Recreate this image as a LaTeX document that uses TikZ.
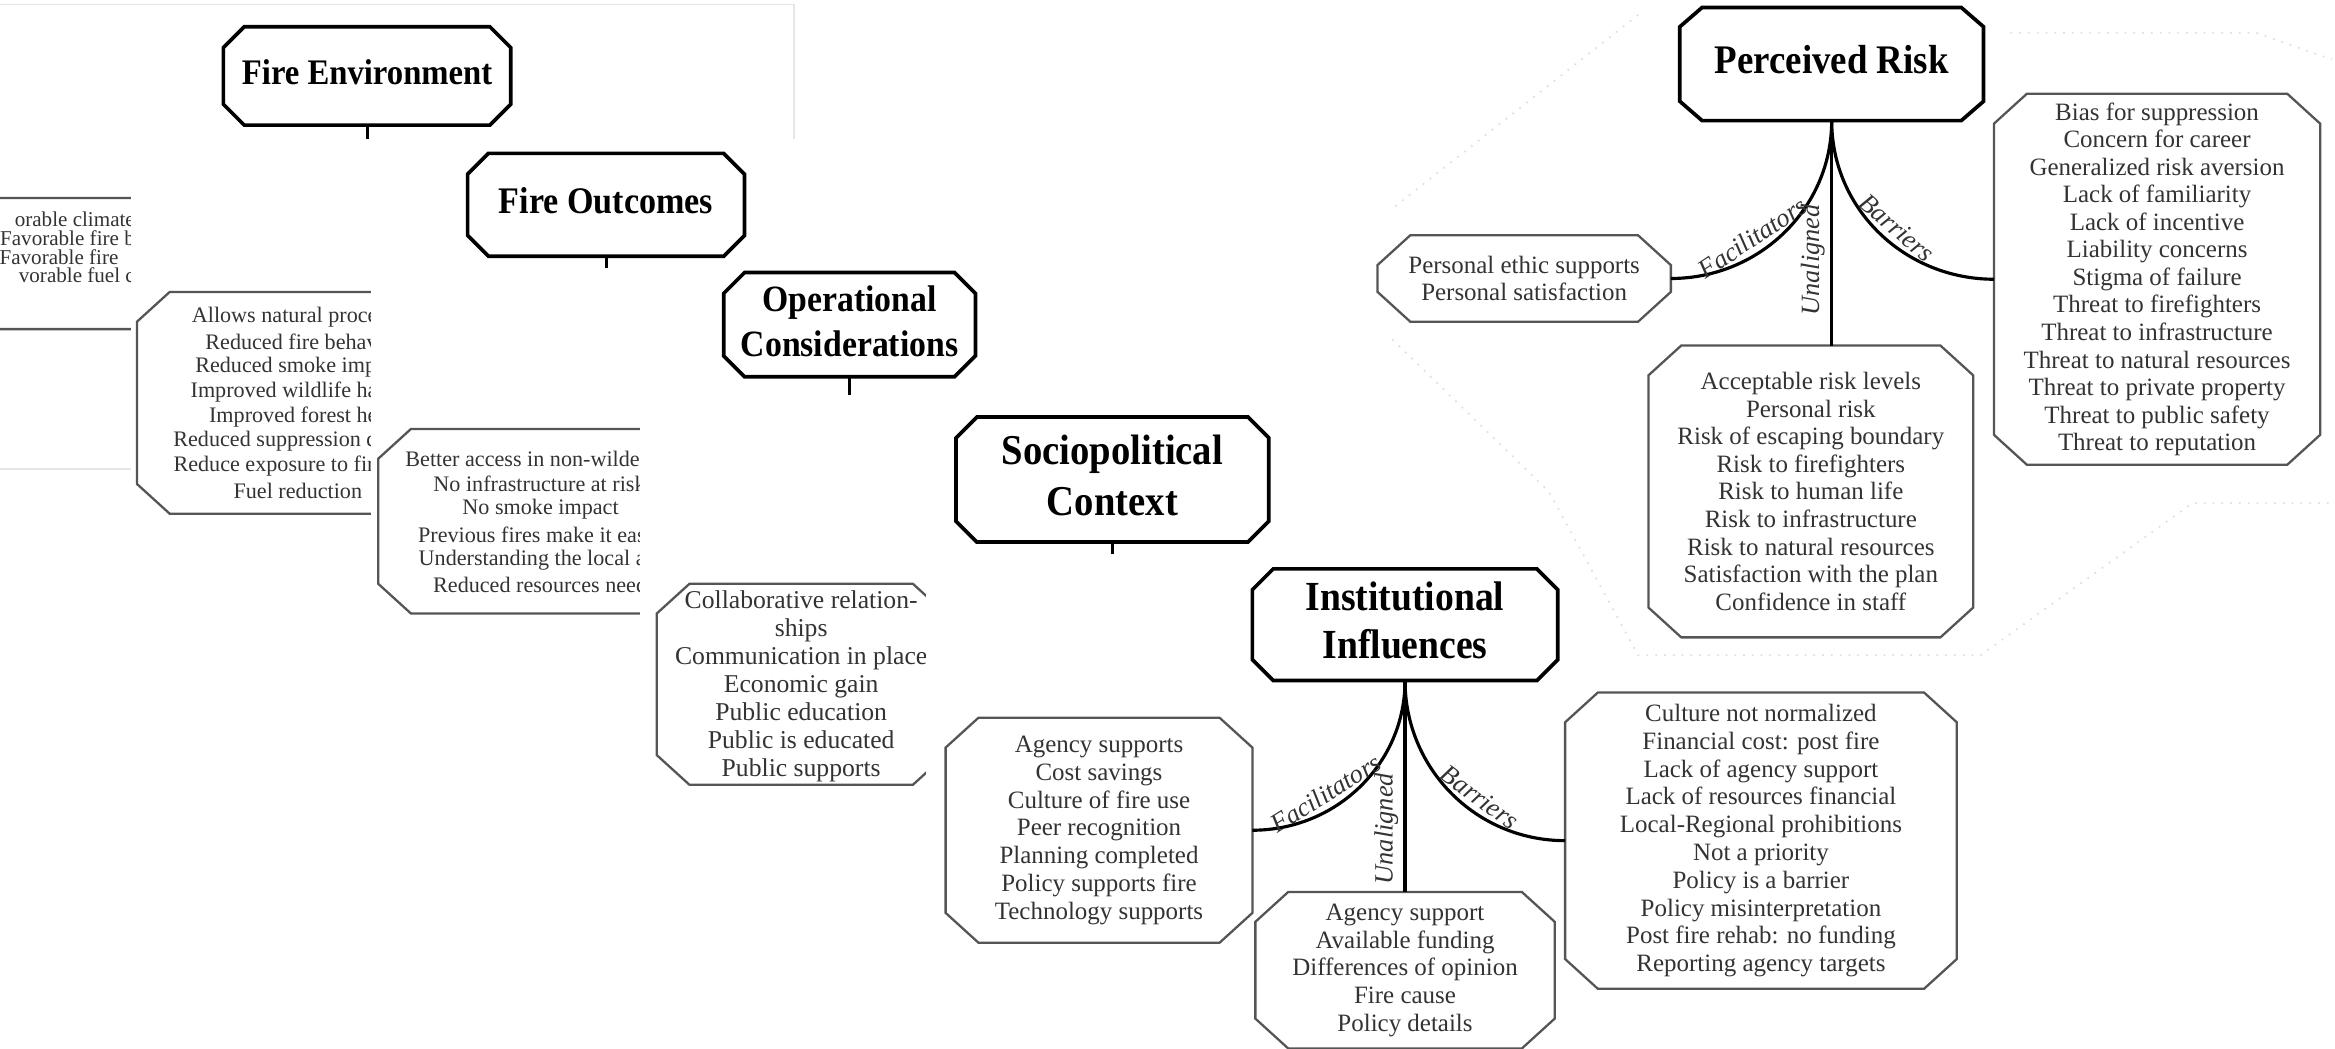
\documentclass[tikz,border=0pt]{standalone}
\usepackage{fontspec}
\usepackage{graphicx}
\setmainfont{Liberation Serif}
\usetikzlibrary{calc,fit}
\definecolor{txt}{HTML}{333333}
\definecolor{bline}{HTML}{555555}
\definecolor{pane}{HTML}{E6E6E6}
\newcommand\obox[8]{%
  \path (#2,#3) coordinate (#1-a) (#4,#5) coordinate (#1-b);
  \node[fit=(#1-a)(#1-b), inner sep=0pt, outer sep=0pt] (#1) {};
  \draw[#6] ($(#1.north west)+(#7,0)$) -- ($(#1.north east)+(-#7,0)$) -- ($(#1.north east)+(0,#8)$) -- ($(#1.south east)+(0,-#8)$) -- ($(#1.south east)+(-#7,0)$) -- ($(#1.south west)+(#7,0)$) -- ($(#1.south west)+(0,-#8)$) -- ($(#1.north west)+(0,#8)$) -- cycle;}
\newcommand\tallt[1]{\scalebox{1}[1.1]{\begin{tabular}{@{}c@{}}#1\end{tabular}}}
\begin{document}
\begin{tikzpicture}[x=0.014892cm, y=-0.014892cm,
  tbox/.style={draw=black, line width=1.05pt, fill=white, line join=miter},
  cbox/.style={draw=bline, line width=0.65pt, fill=white},
  ttl/.style={align=center, inner sep=0pt, text=black},
  bd/.style={align=center, inner sep=0pt, text=txt, font=\fontsize{7.1}{#1}\selectfont},
  cl/.style={inner sep=0pt, text=txt, font=\fontsize{6.3}{7}\selectfont},
  fl/.style={inner sep=0pt, text=txt, font=\fontsize{6}{6.2}\selectfont, anchor=east},
  conn/.style={draw=black, line width=0.9pt},
  lab/.style={font=\fontsize{7.5}{8}\selectfont\itshape, text=black!80, sloped, above, inner sep=1.5pt},
  panel/.style={fill=white},
  frame/.style={draw=pane, line width=0.5pt},
  ghost/.style={draw=black!12, line width=0.5pt, dotted},
]
\useasboundingbox (0,0) rectangle (1568,704);

% ---------------- Panel 1: Fire Environment ----------------
\draw[frame] (-5,3) -- (533,3) -- (533,315) -- (-5,315);
\obox{fe}{150}{18}{343}{84}{tbox}{14}{14}
\node[ttl, font=\fontsize{9.3}{11}\selectfont\bfseries] (fe-t) at (fe) {\tallt{Fire Environment}};
\coordinate (fe-s) at (246.5,100);
\draw[conn] (fe.south) -- (fe-s);
\obox{fel}{-150}{133}{200}{221}{cbox}{22}{20}
\node[fl] (fel-1) at (91,147) {orable climate};
\node[fl] (fel-2) at (91,160) {Favorable fire b};
\node[fl] (fel-3) at (80,172.5) {Favorable fire};
\node[fl] (fel-4) at (91,185) {vorable fuel c};

% ---------------- Panel 2: Fire Outcomes ----------------
\fill[panel] (88,93) rectangle (560,480);
\obox{fo}{314}{103}{500}{172}{tbox}{14}{14}
\node[ttl, font=\fontsize{9.7}{11}\selectfont\bfseries] (fo-t) at (fo) {\tallt{Fire Outcomes}};
\coordinate (fo-s) at (407,190);
\draw[conn] (fo.south) -- (fo-s);
\obox{fol}{92}{196}{308}{345}{cbox}{22}{20}
\node[cl, anchor=east] (fol-1) at (254,213) {Allows natural proce};
\node[cl, anchor=east] (fol-2) at (254,229.7) {Reduced fire behav};
\node[cl, anchor=east] (fol-3) at (253,246.4) {Reduced smoke imp};
\node[cl, anchor=east] (fol-4) at (254,263.1) {Improved wildlife ha};
\node[cl, anchor=east] (fol-5) at (254,279.8) {Improved forest he};
\node[cl, anchor=east] (fol-6) at (254,296.5) {Reduced suppression d};
\node[cl, anchor=east] (fol-7) at (252,313.2) {Reduce exposure to fir};
\node[cl] (fol-8) at (200,329.9) {Fuel reduction};

% ---------------- Panel 3: Operational Considerations ----------------
\fill[panel] (249,180) rectangle (690,560);
\obox{oc}{486}{183}{655}{253}{tbox}{14}{14}
\node[ttl, font=\fontsize{9.6}{11.6}\selectfont\bfseries] (oc-t) at (oc) {\tallt{Operational\\Considerations}};
\coordinate (oc-s) at (570.5,280);
\draw[conn] (oc.south) -- (oc-s);
\obox{ocl}{254}{288}{472}{412}{cbox}{22}{20}
\node[cl, anchor=east] (ocl-1) at (435,308) {Better access in non-wilder};
\node[cl, anchor=east] (ocl-2) at (434,325) {No infrastructure at risk};
\node[cl] (ocl-3) at (363,342) {No smoke impact};
\node[cl, anchor=east] (ocl-4) at (434,359) {Previous fires make it eas};
\node[cl, anchor=east] (ocl-5) at (434,376) {Understanding the local a};
\node[cl, anchor=east] (ocl-6) at (435,393) {Reduced resources need};

% ---------------- Panel 4: Sociopolitical Context ----------------
\fill[panel] (430,265) rectangle (870,600);
\obox{sc}{642}{280}{852}{364}{tbox}{14}{14}
\node[ttl, font=\fontsize{11}{13.2}\selectfont\bfseries] (sc-t) at (sc) {\tallt{Sociopolitical\\Context}};
\coordinate (sc-s) at (747,385);
\draw[conn] (sc.south) -- (sc-s);
\obox{col}{441}{392}{635}{527}{cbox}{22}{20}
\node[bd=7.97, font=\fontsize{7.3}{7.97}\selectfont] (col-t) at (538,461) {Collaborative relation-\\ships\\Communication in place\\Economic gain\\Public education\\Public is educated\\Public supports};

% ---------------- Panel 5: Institutional Influences ----------------
\fill[panel] (622,372) rectangle (1568,704);
\obox{ii}{841}{382}{1046}{457}{tbox}{14}{14}
\node[ttl, font=\fontsize{10.7}{12.6}\selectfont\bfseries] (ii-t) at (ii) {\tallt{Institutional\\Influences}};
\obox{iif}{635}{482}{841}{633}{cbox}{22}{20}
\node[bd=7.9] (iif-t) at (iif) {Agency supports\\Cost savings\\Culture of fire use\\Peer recognition\\Planning completed\\Policy supports fire\\Technology supports};
\obox{iiu}{843}{599}{1044}{704}{cbox}{22}{20}
\node[bd=7.9] (iiu-t) at (iiu) {Agency support\\Available funding\\Differences of opinion\\Fire cause\\Policy details};
\obox{iib}{1051}{465}{1314}{664}{cbox}{22}{20}
\node[bd=7.9] (iib-t) at (iib) {Culture not normalized\\Financial cost: post fire\\Lack of agency support\\Lack of resources financial\\Local-Regional prohibitions\\Not a priority\\Policy is a barrier\\Policy misinterpretation\\Post fire rehab: no funding\\Reporting agency targets};
\draw[conn] (iif.east) to[out=0,in=-90] node[lab, pos=0.36] {Facilitators} (ii.south);
\draw[conn] (ii.south |- iiu.north) -- node[lab, pos=0.3] {Unaligned} (ii.south);
\draw[conn] (ii.south) to[out=-90,in=180] node[lab, pos=0.6] {Barriers} (iib.west);

% ---------------- Panel 6: Perceived Risk ----------------
\draw[ghost] (1100,10) -- (935,140);
\draw[ghost] (935,228) -- (1040,330) -- (1100,440) -- (1330,440) -- (1472,338) -- (1568,338);
\draw[ghost] (1350,22) -- (1515,22) -- (1566,40);
\obox{pr}{1128}{5}{1332}{81}{tbox}{15}{13}
\node[ttl, font=\fontsize{10.5}{12}\selectfont\bfseries] (pr-t) at (pr) {\tallt{Perceived Risk}};
\obox{prl}{925}{158}{1122}{216}{cbox}{22}{20}
\node[bd=7.6] (prl-t) at (prl) {Personal ethic supports\\Personal satisfaction};
\obox{pru}{1107}{232}{1325}{428}{cbox}{22}{20}
\node[bd=7.84] (pru-t) at (pru) {Acceptable risk levels\\Personal risk\\Risk of escaping boundary\\Risk to firefighters\\Risk to human life\\Risk to infrastructure\\Risk to natural resources\\Satisfaction with the plan\\Confidence in staff};
\obox{prb}{1339}{63}{1558}{312}{cbox}{22}{20}
\node[bd=7.84] (prb-t) at (prb) {Bias for suppression\\Concern for career\\Generalized risk aversion\\Lack of familiarity\\Lack of incentive\\Liability concerns\\Stigma of failure\\Threat to firefighters\\Threat to infrastructure\\Threat to natural resources\\Threat to private property\\Threat to public safety\\Threat to reputation};
\draw[conn] (prl.east) to[out=0,in=-90] node[lab, pos=0.38] {Facilitators} (pr.south);
\draw[conn] (pr.south |- pru.north) -- node[lab, pos=0.38] {Unaligned} (pr.south);
\draw[conn] (pr.south) to[out=-90,in=180] node[lab, pos=0.54] {Barriers} (prb.west);
\end{tikzpicture}
\end{document}
